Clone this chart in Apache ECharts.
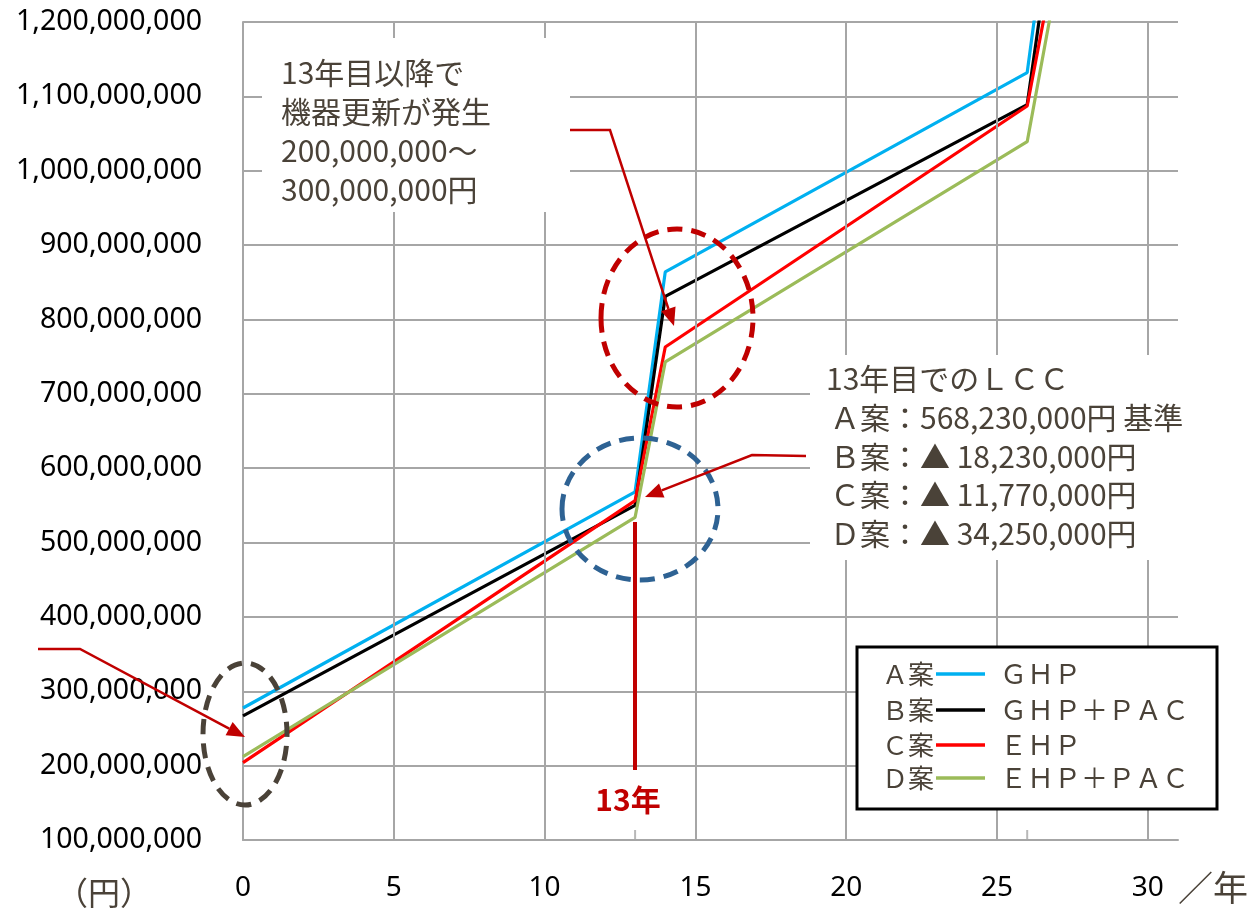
<!DOCTYPE html>
<html><head><meta charset="utf-8">
<script src="https://cdn.jsdelivr.net/npm/echarts@6/dist/echarts.min.js"></script>
<style>html,body{margin:0;padding:0;background:#fff}#c{width:1254px;height:916px}</style>
</head><body><div id="c"></div><script>
// ---- data ----
const years = [0, 13, 14, 26, 27];
const planA = [277.5e6, 568.23e6, 864e6, 1132e6, 1435e6];
const planB = [266.8e6, 550.0e6, 831e6, 1089e6, 1375e6];
const planC = [204.0e6, 556.46e6, 763e6, 1087e6, 1300e6];
const planD = [212.0e6, 533.98e6, 743e6, 1039e6, 1260e6];
const planLabels = ['Ａ案', 'Ｂ案', 'Ｃ案', 'Ｄ案'];
const planNames = ['ＧＨＰ', 'ＧＨＰ＋ＰＡＣ', 'ＥＨＰ', 'ＥＨＰ＋ＰＡＣ'];
const xGridTicks = [5, 10, 15, 20, 25, 30];
const xMinorTicks = [13, 26];
const note1 = ['13年目以降で', '機器更新が発生', '200,000,000～', '300,000,000円'];
const note2 = ['13年目でのＬＣＣ', 'Ａ案：568,230,000円 基準', 'Ｂ案：▲ 18,230,000円', 'Ｃ案：▲ 11,770,000円', 'Ｄ案：▲ 34,250,000円'];

const colors = ['#00B0F0', '#000000', '#FF0000', '#9BBB59'];
const plans = [planA, planB, planC, planD];
const GRIDC = '#A6A6A6';
const TXT = '#4A4238';
const RED = '#C00000';
const CJK = '"Noto Sans CJK JP"';

function arrow(pts, color) {
  const n = pts.length;
  const [x1, y1] = pts[n - 2], [x2, y2] = pts[n - 1];
  const a = Math.atan2(y2 - y1, x2 - x1), L = 18, W = 7.5;
  const bx = x2 - L * Math.cos(a), by = y2 - L * Math.sin(a);
  const px = -Math.sin(a) * W, py = Math.cos(a) * W;
  return [
    { type: 'polyline', z: 100, shape: { points: pts.slice(0, -1).concat([[bx, by]]) }, style: { stroke: color, lineWidth: 2.5, fill: null } },
    { type: 'polygon', z: 100, shape: { points: [[x2, y2], [bx + px, by + py], [bx - px, by - py]] }, style: { fill: color } }
  ];
}

const graphics = [];
// text box 1
graphics.push({ type: 'rect', z: 90, shape: { x: 262, y: 38, width: 308, height: 174 }, style: { fill: '#fff' } });
graphics.push({ type: 'text', z: 100, style: { text: note1.join('\n'), x: 281, y: 53, font: '30px ' + CJK, fill: TXT, lineHeight: 39, verticalAlign: 'top' } });
// text box 2
graphics.push({ type: 'rect', z: 90, shape: { x: 810, y: 355, width: 410, height: 205 }, style: { fill: '#fff' } });
graphics.push({ type: 'text', z: 100, style: { text: note2[0], x: 826, y: 379, font: '30px ' + CJK, fill: TXT, verticalAlign: 'middle' } });
graphics.push({ type: 'text', z: 100, style: { text: note2.slice(1).join('\n'), x: 830, y: 398, font: '30px ' + CJK, fill: TXT, lineHeight: 38.8, verticalAlign: 'top' } });
// ellipses
graphics.push({ type: 'ellipse', z: 100, shape: { cx: 245, cy: 734, rx: 42, ry: 71 }, style: { fill: null, stroke: TXT, lineWidth: 5, lineDash: [15, 9] } });
graphics.push({ type: 'ellipse', z: 100, shape: { cx: 640, cy: 509, rx: 78, ry: 71 }, style: { fill: null, stroke: '#2E6293', lineWidth: 5, lineDash: [15, 9] } });
graphics.push({ type: 'ellipse', z: 100, shape: { cx: 677, cy: 318, rx: 76, ry: 89 }, style: { fill: null, stroke: RED, lineWidth: 5, lineDash: [15, 9] } });
// arrows
graphics.push(...arrow([[38, 649], [80, 649], [245, 737]], RED));
graphics.push(...arrow([[570, 130], [610, 130], [674, 326]], RED));
graphics.push(...arrow([[806, 456], [752, 455], [645, 497]], RED));
// 13 year marker
graphics.push({ type: 'line', z: 100, shape: { x1: 635, y1: 522, x2: 635, y2: 770 }, style: { stroke: RED, lineWidth: 4 } });
graphics.push({ type: 'text', z: 100, style: { text: '13年', x: 628, y: 800, font: 'bold 30px ' + CJK, fill: RED, align: 'center', verticalAlign: 'middle' } });
// axis captions
graphics.push({ type: 'text', z: 100, style: { text: '（円）', x: 104, y: 893, font: '32px ' + CJK, fill: TXT, align: 'center', verticalAlign: 'middle' } });
graphics.push({ type: 'text', z: 100, style: { text: '／年', x: 1178, y: 888, font: '35px ' + CJK, fill: TXT, verticalAlign: 'middle' } });
// legend
graphics.push({ type: 'rect', z: 95, shape: { x: 857, y: 647, width: 360, height: 162 }, style: { fill: '#fff', stroke: '#000', lineWidth: 3 } });
const rowY = [674, 710, 745, 778];
planLabels.forEach((lab, i) => {
  graphics.push({ type: 'text', z: 100, style: { text: lab, x: 882, y: rowY[i], font: '26px ' + CJK, fill: TXT, verticalAlign: 'middle' } });
  graphics.push({ type: 'line', z: 100, shape: { x1: 936, y1: rowY[i], x2: 985, y2: rowY[i] }, style: { stroke: colors[i], lineWidth: 3.5 } });
  graphics.push({ type: 'text', z: 100, style: { text: planNames[i], x: 1000, y: rowY[i], font: '27px ' + CJK, fill: TXT, verticalAlign: 'middle' } });
});

const series = [
  { type: 'line', z: 1, silent: true, data: [], markLine: { silent: true, symbol: 'none', label: { show: false },
      lineStyle: { color: GRIDC, width: 2, type: 'solid' }, data: xGridTicks.map(v => ({ xAxis: v })) } },
  { type: 'scatter', z: 1, silent: true, symbol: 'rect', symbolSize: [2, 10], symbolOffset: [0, -5],
    itemStyle: { color: GRIDC }, data: xMinorTicks.map(v => [v, 100e6]) }
];
plans.forEach((p, i) => {
  series.push({ type: 'line', name: planLabels[i] + planNames[i], z: 2, symbol: 'none', clip: true,
    lineStyle: { color: colors[i], width: 3.2 }, data: years.map((y, k) => [y, p[k]]) });
});

const chart = echarts.init(document.getElementById('c'), null, { renderer: 'canvas' });
chart.setOption({
  animation: false,
  backgroundColor: '#fff',
  grid: { left: 243, right: 76, top: 22, bottom: 76, containLabel: false },
  xAxis: { type: 'value', min: 0, max: 31, interval: 5,
    axisLine: { lineStyle: { color: GRIDC, width: 2 } }, axisTick: { show: false },
    splitLine: { show: false },
    axisLabel: { margin: 34, color: '#000', fontSize: 28, fontFamily: 'Noto Sans', formatter: v => (v % 5 === 0 ? String(v) : '') } },
  yAxis: { type: 'value', min: 100e6, max: 1200e6, interval: 100e6,
    axisLine: { show: true, lineStyle: { color: GRIDC, width: 2 } }, axisTick: { show: false },
    splitLine: { show: true, lineStyle: { color: GRIDC, width: 2 } },
    axisLabel: { margin: 41, color: '#000', fontSize: 28.5, fontFamily: 'Noto Sans', formatter: v => v.toLocaleString('en-US') } },
  series: series,
  graphic: graphics
});
</script></body></html>
